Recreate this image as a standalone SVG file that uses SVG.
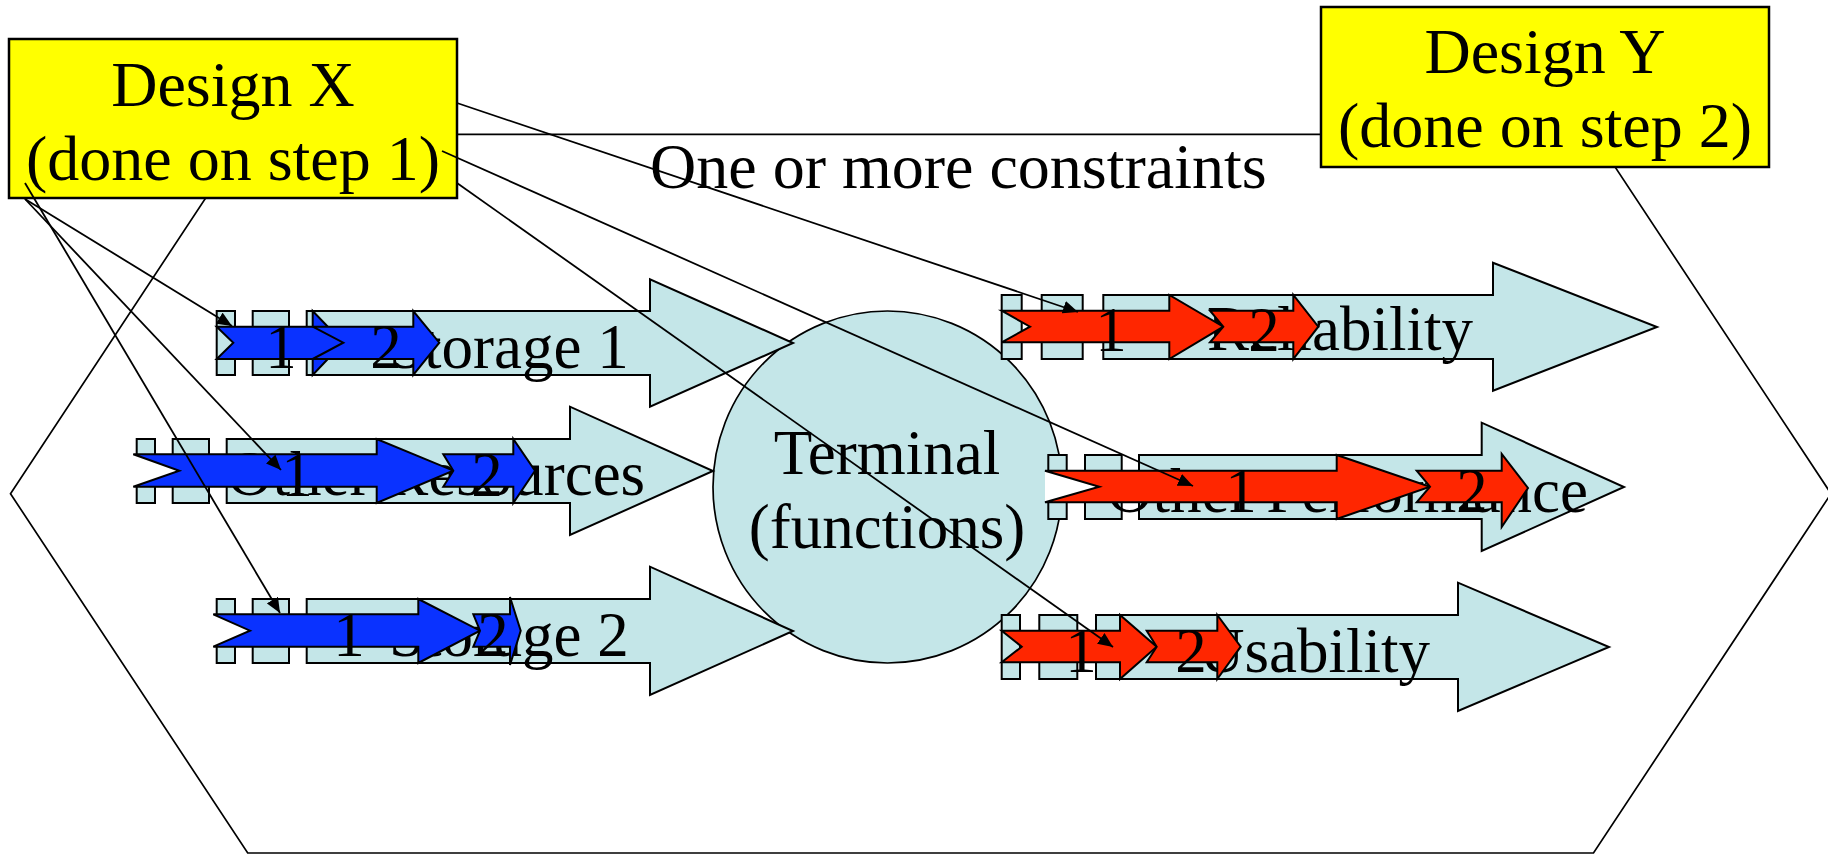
<svg xmlns="http://www.w3.org/2000/svg" width="1828" height="855" viewBox="0 0 1828 855">
  <defs>
    <style>
      .t { font-family: "Liberation Serif", "Times New Roman", serif; font-size: 63px; fill: #000; }
      .big { font-size: 64px; }
      .c { text-anchor: middle; }
      .box { fill: #FFFF00; stroke: #000; stroke-width: 2.5; }
      .aqua { fill: #C4E6E8; stroke: #000; stroke-width: 2; }
      .blue { fill: #0A32FF; stroke: #000; stroke-width: 2; }
      .red { fill: #FF2600; stroke: #000; stroke-width: 2; }
      .gap { fill: #FFFFFF; stroke: none; }
      .edge { fill: none; stroke: #000; stroke-width: 1.7; }
      .link { fill: none; stroke: #000; stroke-width: 1.8; marker-end: url(#head); }
    </style>
    <marker id="head" markerUnits="userSpaceOnUse" viewBox="0 0 15 13" refX="15" refY="6.5" markerWidth="15" markerHeight="13" orient="auto">
      <path d="M0,0 L15,6.5 L0,13 Z" fill="#000"/>
    </marker>
  </defs>

  <rect x="0" y="0" width="1828" height="855" fill="#FFFFFF"/>

  <!-- constraint region -->
  <g id="constraints">
    <path class="edge" d="M247.7,134.3 L1593.5,134.3 L1831,493.7 L1593.5,853 L247.7,853 L10.5,493.7 Z"/>
    <text class="t big" x="650" y="188">One or more constraints</text>
  </g>

  <g id="design-x">
    <rect class="box" x="9" y="39" width="448" height="159"/>
    <text class="t big c" x="233" y="106">Design X</text>
    <text class="t big c" x="233" y="180">(done on step 1)</text>
  </g>

  <g id="design-y">
    <rect class="box" x="1321" y="7" width="448" height="160"/>
    <text class="t big c" x="1545" y="73">Design Y</text>
    <text class="t big c" x="1545" y="147">(done on step 2)</text>
  </g>

  <g id="terminal">
    <ellipse cx="887.5" cy="487" rx="174.5" ry="176" fill="#C4E6E8" stroke="#000" stroke-width="1.7"/>
    <text class="t c" x="887" y="474">Terminal</text>
    <text class="t c" x="887" y="548">(functions)</text>
  </g>

  <!-- resource arrows (left) -->
  <g id="storage-1">
    <rect class="aqua" x="216.7" y="311" width="18.3" height="64"/>
    <rect class="aqua" x="252.7" y="311" width="36.3" height="64"/>
    <path class="aqua" d="M306.7,311 L650,311 L650,279.3 L793,343 L650,406.7 L650,375 L306.7,375 Z"/>
    <text class="t" x="389" y="368">Storage 1</text>
    <path class="blue" d="M216.7,326.7 L312.7,326.7 L312.7,311 L343.3,342.7 L312.7,375 L312.7,359 L216.7,359 L233.3,342.7 Z"/>
    <text class="t c" x="281" y="368">1</text>
    <path class="blue" d="M312.7,326.7 L413.3,326.7 L413.3,311 L439.3,342.7 L413.3,375 L413.3,359 L312.7,359 L343.3,342.7 Z"/>
    <text class="t c" x="386" y="368">2</text>
  </g>

  <g id="other-resources">
    <rect class="aqua" x="136.7" y="439" width="18.3" height="64"/>
    <rect class="aqua" x="172.7" y="439" width="36.3" height="64"/>
    <path class="aqua" d="M226.7,439 L570,439 L570,406.7 L713,471 L570,535 L570,503 L226.7,503 Z"/>
    <text class="t" x="227" y="495">Other Resources</text>
    <path class="gap" d="M133.3,454.3 L179.3,470.7 L133.3,486.7 Z"/>
    <path class="blue" d="M133.3,454.3 L376.7,454.3 L376.7,439 L453.3,470.7 L376.7,503 L376.7,486.7 L133.3,486.7 L179.3,470.7 Z"/>
    <text class="t c" x="297" y="496">1</text>
    <path class="blue" d="M443.3,454.3 L513.3,454.3 L513.3,439 L535,470.7 L513.3,503 L513.3,486.7 L443.3,486.7 L453.3,470.7 Z"/>
    <text class="t c" x="487" y="496">2</text>
  </g>

  <g id="storage-2">
    <rect class="aqua" x="216.7" y="599" width="18.3" height="64"/>
    <rect class="aqua" x="252.7" y="599" width="36.3" height="64"/>
    <path class="aqua" d="M306.7,599 L650,599 L650,566.7 L793,631 L650,695 L650,663 L306.7,663 Z"/>
    <text class="t" x="389" y="656">Storage 2</text>
    <path class="gap" d="M213.3,614.3 L250,630.7 L213.3,646.7 Z"/>
    <path class="blue" d="M213.3,614.3 L418.3,614.3 L418.3,599 L480,630.7 L418.3,663 L418.3,646.7 L213.3,646.7 L250,630.7 Z"/>
    <text class="t c" x="349" y="656">1</text>
    <path class="blue" d="M473.3,614.3 L510,614.3 L510,597 L520.7,630.7 L510,665 L510,646.7 L473.3,646.7 L480,630.7 Z"/>
    <text class="t c" x="493" y="656">2</text>
  </g>

  <!-- quality arrows (right) -->
  <g id="reliability">
    <rect class="aqua" x="1001.7" y="295" width="20" height="64"/>
    <rect class="aqua" x="1041.7" y="295" width="41" height="64"/>
    <path class="aqua" d="M1103.3,295 L1493,295 L1493,262.7 L1657,327 L1493,390.7 L1493,359 L1103.3,359 Z"/>
    <text class="t" x="1207" y="350">Reliability</text>
    <path class="red" d="M1001.7,310.7 L1169.3,310.7 L1169.3,295 L1223.3,326.7 L1169.3,359 L1169.3,342.3 L1001.7,342.3 L1030,326.7 Z"/>
    <text class="t c" x="1111" y="351">1</text>
    <path class="red" d="M1210,310.7 L1293.3,310.7 L1293.3,295 L1318.3,326.7 L1293.3,359 L1293.3,342.3 L1210,342.3 L1223.3,326.7 Z"/>
    <text class="t c" x="1264" y="351">2</text>
  </g>

  <g id="other-performance">
    <rect class="aqua" x="1048.3" y="455" width="18.4" height="64"/>
    <rect class="aqua" x="1085" y="455" width="36.7" height="64"/>
    <path class="aqua" d="M1139,455 L1481.7,455 L1481.7,422.7 L1624,487 L1481.7,551 L1481.7,519 L1139,519 Z"/>
    <text class="t" x="1107" y="512">Other Performance</text>
    <path class="gap" d="M1045,470.7 L1099.3,486.7 L1045,502.3 Z"/>
    <path class="red" d="M1045,470.7 L1336.7,470.7 L1336.7,455 L1430,486.7 L1336.7,519 L1336.7,502.3 L1045,502.3 L1099.3,486.7 Z"/>
    <text class="t c" x="1241" y="512">1</text>
    <path class="red" d="M1416.7,470.7 L1501.7,470.7 L1501.7,454 L1528,488 L1501.7,527 L1501.7,502.3 L1416.7,502.3 L1430,486.7 Z"/>
    <text class="t c" x="1472" y="512">2</text>
  </g>

  <g id="usability">
    <rect class="aqua" x="1001.7" y="615" width="18.3" height="64"/>
    <rect class="aqua" x="1039.3" y="615" width="38" height="64"/>
    <path class="aqua" d="M1096,615 L1458,615 L1458,582.7 L1609,647 L1458,711 L1458,679 L1096,679 Z"/>
    <text class="t" x="1199" y="672">Usability</text>
    <path class="red" d="M1001.7,630.7 L1120,630.7 L1120,615 L1156.7,646.7 L1120,679 L1120,662.3 L1001.7,662.3 L1021.7,646.7 Z"/>
    <text class="t c" x="1081" y="672">1</text>
    <path class="red" d="M1146.7,630.7 L1217.3,630.7 L1217.3,615 L1240.7,646.7 L1217.3,679 L1217.3,662.3 L1146.7,662.3 L1156.7,646.7 Z"/>
    <text class="t c" x="1191" y="672">2</text>
  </g>

  <!-- links from the designs to the first step of each arrow -->
  <g id="connectors">
    <line class="link" x1="25" y1="199" x2="232" y2="326"/>
    <line class="link" x1="25" y1="199" x2="281" y2="470"/>
    <line class="link" x1="25" y1="183" x2="280" y2="613"/>
    <line class="link" x1="457" y1="103" x2="1078" y2="312"/>
    <line class="link" x1="442" y1="151" x2="1193" y2="486"/>
    <line class="link" x1="457" y1="183" x2="1113" y2="647"/>
  </g>
</svg>
